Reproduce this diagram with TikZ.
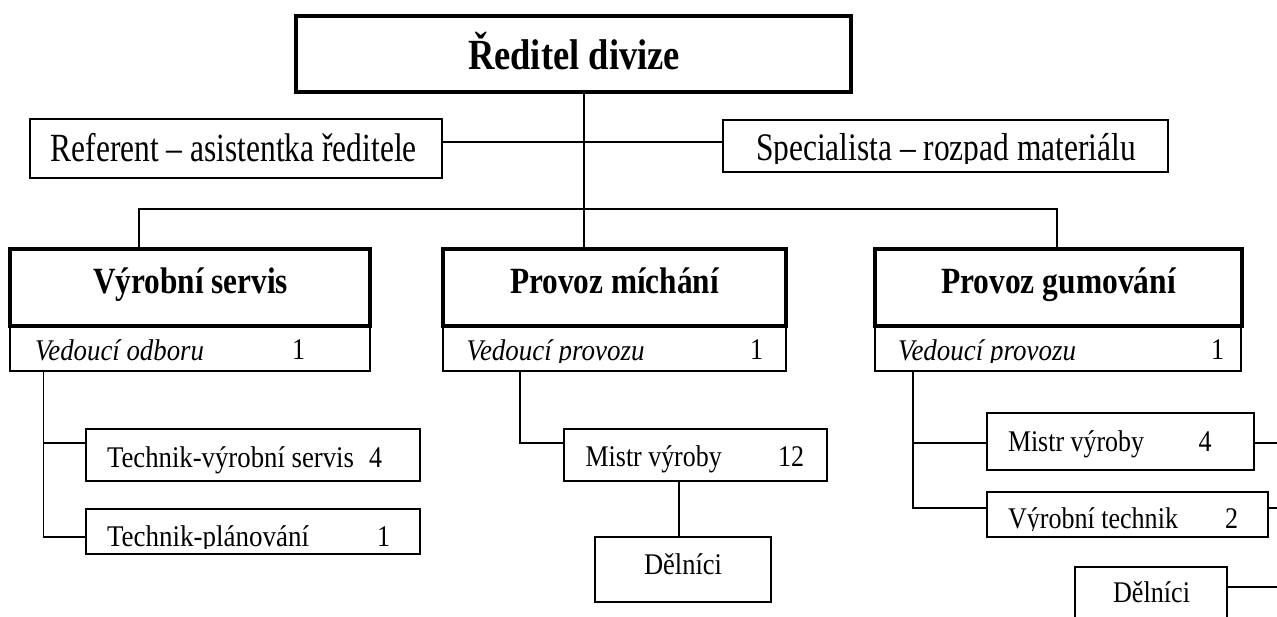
\documentclass[tikz,border=0pt]{standalone}
\usepackage{fontspec}
\setmainfont{Liberation Serif}
\usetikzlibrary{fit}
% squeeze a text to a given width (in pt) while keeping its height
\newcommand\fitw[2]{\resizebox{#1pt}{\height}{#2}}
\newcommand\fsz[1]{\fontsize{#1}{#1}\selectfont}

\begin{document}
\begin{tikzpicture}[x=1pt,y=-1pt,line join=miter,
  conn/.style={line width=1.5pt},
  plainbox/.style={draw,line width=1.5pt,inner sep=0pt,outer sep=0pt},
  heavybox/.style={draw,line width=3.6pt,inner sep=0pt,outer sep=0pt},
  lbl/.style={anchor=base west,inner sep=0pt,outer sep=0pt,text=black},
  midtxt/.style={font=\fsz{37}\bfseries},
  smalltxt/.style={font=\fsz{30}},
  ittxt/.style={font=\fsz{30}\itshape}]

\clip (0,0) rectangle (1277,617);
\fill[white] (0,0) rectangle (1277,617);

% ---- boxes ----
\node[heavybox,line width=4pt,fit={(296,16) (851,92)}] (dir) {};
\node[plainbox,fit={(30,119) (442,178)}] (ref) {};
\node[plainbox,fit={(723,120) (1168,172)}] (spec) {};

\node[plainbox,fit={(10,326) (370,371)}] (vsb) {};
\node[plainbox,fit={(443,326) (786,371)}] (micb) {};
\node[plainbox,fit={(875,326) (1241,371)}] (gumb) {};
\node[heavybox,fit={(10,249) (370,326)}] (vs) {};
\node[heavybox,fit={(443,249) (786,326)}] (mic) {};
\node[heavybox,fit={(875,249) (1242,326)}] (gum) {};

\node[plainbox,fit={(86,429) (420,481)}] (tvs) {};
\node[plainbox,fit={(86,509) (420,554)}] (tpl) {};
\node[plainbox,fit={(564,429) (827,481)}] (m12) {};
\node[plainbox,fit={(595,537) (771,602)}] (del1) {};
\node[plainbox,fit={(987,413) (1254,470)}] (m4) {};
\node[plainbox,fit={(987,492) (1268,537)}] (vt) {};
\node[plainbox,fit={(1075,567) (1227,640)}] (del2) {};

% ---- guide coordinates ----
\coordinate (spine) at (584,0);
\coordinate (lvl1) at (0,142);
\coordinate (bus) at (0,209);
\coordinate (xl) at (139,0);
\coordinate (xr) at (1057,0);
\coordinate (xa) at (43.7,0);
\coordinate (xb) at (520,0);
\coordinate (xc) at (679,0);
\coordinate (xd) at (913,0);
\coordinate (ya) at (0,443);
\coordinate (yb) at (0,537);
\coordinate (yc) at (0,508);
\coordinate (yd) at (0,587);
\coordinate (edge) at (1285,0);

% ---- connectors ----
\draw[conn] (spine |- dir.south) -- (spine |- mic.north);
\draw[conn] (ref.east |- lvl1) -- (spec.west |- lvl1);
\draw[conn] (xl |- vs.north) -- (xl |- bus) -- (xr |- bus) -- (xr |- gum.north);

\draw[conn] (xa |- vsb.south) -- (xa |- yb) -- (tpl.west |- yb);
\draw[conn] (xa |- ya) -- (tvs.west |- ya);

\draw[conn] (xb |- micb.south) -- (xb |- ya) -- (m12.west |- ya);
\draw[conn] (xc |- m12.south) -- (xc |- del1.north);

\draw[conn] (xd |- gumb.south) -- (xd |- yc) -- (vt.west |- yc);
\draw[conn] (xd |- ya) -- (m4.west |- ya);
\draw[conn] (m4.east |- ya) -- (edge |- ya);
\draw[conn] (vt.east |- yc) -- (edge |- yc);
\draw[conn] (del2.east |- yd) -- (edge |- yd);

% ---- texts ----
\node[lbl,font=\fsz{43}\bfseries] (tdir) at (468,70) {\fitw{212}{Ředitel divize}};
\node[lbl,font=\fsz{40}] (tref) at (50.7,162) {\fitw{366}{Referent – asistentka ředitele}};
\begin{scope}
  \clip (724,121) rectangle (1167,163.5);
  \node[lbl,font=\fsz{39}] (tspec) at (756,161) {\fitw{380}{Specialista – rozpad materiálu}};
\end{scope}

\node[lbl,midtxt] (tvs) at (93,294) {\fitw{195}{Výrobní servis}};
\node[lbl,midtxt] (tmic) at (510,294) {\fitw{209}{Provoz míchání}};
\node[lbl,midtxt] (tgum) at (941,294) {\fitw{235}{Provoz gumování}};

\begin{scope}
  \clip (0,327) rectangle (1277,362.5);
  \node[lbl,ittxt] (ved1) at (35,360) {\fitw{169}{Vedoucí odboru}};
  \node[lbl,ittxt] (ved2) at (466.5,360) {\fitw{178}{Vedoucí provozu}};
  \node[lbl,ittxt] (ved3) at (898,360) {\fitw{178}{Vedoucí provozu}};
\end{scope}
\node[lbl,font=\fsz{30}] (n1) at (292,360) {\fitw{13}{1}};
\node[lbl,font=\fsz{30}] (n2) at (750,360) {\fitw{13}{1}};
\node[lbl,font=\fsz{30}] (n3) at (1211,360) {\fitw{13}{1}};

\node[lbl,smalltxt] (ttvs) at (107,467) {\fitw{247}{Technik-výrobní servis}};
\node[lbl,smalltxt] (ntvs) at (369,467) {\fitw{13}{4}};
\begin{scope}
  \clip (87,510) rectangle (419,548.5);
  \node[lbl,smalltxt] (ttpl) at (107,546) {\fitw{202}{Technik-plánování}};
  \node[lbl,smalltxt] (ntpl) at (377,546) {\fitw{13}{1}};
\end{scope}

\node[lbl,smalltxt] (tm12) at (585.7,466) {\fitw{136}{Mistr výroby}};
\node[lbl,smalltxt] (nm12) at (778,466) {\fitw{26}{12}};
\node[lbl,smalltxt] (tdel1) at (644,574) {\fitw{78}{Dělníci}};

\node[lbl,smalltxt] (tm4) at (1008,451) {\fitw{136}{Mistr výroby}};
\node[lbl,smalltxt] (nm4) at (1198.6,451) {\fitw{13}{4}};
\begin{scope}
  \clip (988,493) rectangle (1267,530.5);
  \node[lbl,smalltxt] (tvt) at (1008,528) {\fitw{170}{Výrobní technik}};
  \node[lbl,smalltxt] (nvt) at (1225,528) {\fitw{13}{2}};
\end{scope}
\node[lbl,smalltxt] (tdel2) at (1113,602) {\fitw{77}{Dělníci}};
\end{tikzpicture}
\end{document}
